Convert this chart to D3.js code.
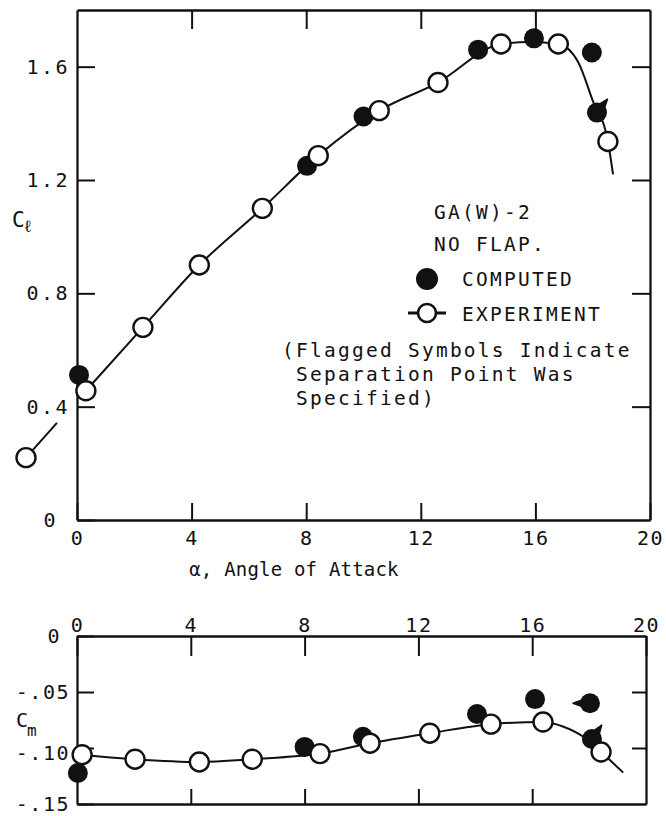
<!DOCTYPE html>
<html>
<head>
<meta charset="utf-8">
<script src="https://cdn.jsdelivr.net/npm/d3@7"></script>
<style>
  body { margin: 0; background: #fff; }
  svg text { font-family: "DejaVu Sans Mono", monospace; fill: #111; }
</style>
</head>
<body>
<script>
// ---------- data ----------
const alphaTicks = [0, 4, 8, 12, 16, 20];
const alphaTickLabels = ["0", "4", "8", "12", "16", "20"];
const clTicks = [0, 0.4, 0.8, 1.2, 1.6];
const clTickLabels = ["0", "0.4", "0.8", "1.2", "1.6"];
const cmTicks = [-0.15, -0.10, -0.05, 0];
const cmTickLabels = ["-.15", "-.10", "-.05", "0"];

// Lift coefficient, experiment
const expAlphaCl = [-1.78, 0.31, 2.3, 4.27, 6.47, 8.42, 10.55, 12.6, 14.8, 16.8, 18.53];
const expCl      = [0.22, 0.456, 0.68, 0.90, 1.10, 1.286, 1.445, 1.544, 1.68, 1.68, 1.336];
// Lift coefficient, computed (flag angle in degrees where separation point was specified)
const compAlphaCl = [0.07, 8.03, 10.0, 14.0, 15.95, 17.97, 18.15];
const compCl      = [0.512, 1.25, 1.424, 1.66, 1.70, 1.65, 1.438];
const compClFlag  = [null, null, null, null, null, null, -52];
// Faired experiment curve for lift
const clFairAlpha = [0.31, 2.3, 4.27, 6.47, 8.42, 10.55, 12.6, 14.8, 15.8, 16.8, 17.5, 18.0, 18.53, 18.71];
const clFair      = [0.456, 0.68, 0.90, 1.10, 1.286, 1.445, 1.544, 1.68, 1.687, 1.68, 1.615, 1.48, 1.336, 1.22];
const clLowAlpha  = [-1.78, -0.70];
const clLow       = [0.22, 0.343];

// Pitching moment, experiment
const expAlphaCm = [0.18, 2.04, 4.3, 6.16, 8.54, 10.3, 12.4, 14.55, 16.38, 18.42];
const expCm      = [-0.106, -0.110, -0.1125, -0.110, -0.105, -0.0957, -0.0868, -0.0787, -0.0768, -0.1036];
// Pitching moment, computed
const compAlphaCm = [0.03, 8.0, 10.05, 14.06, 16.1, 18.03, 18.1];
const compCm      = [-0.1223, -0.099, -0.090, -0.0696, -0.0563, -0.060, -0.092];
const compCmFlag  = [null, null, null, null, null, 180, -55];
// Faired experiment curve for moment
const cmFairAlpha = [0, 0.18, 2.04, 4.3, 6.16, 8.54, 10.3, 12.4, 14.55, 16.38, 17.1, 17.8, 18.42, 19.2];
const cmFair      = [-0.1055, -0.106, -0.110, -0.1125, -0.110, -0.105, -0.0957, -0.0868, -0.0787, -0.0768, -0.081, -0.090, -0.1036, -0.122];

// ---------- layout ----------
const W = 666, H = 816;
const ink = "#111";
const svg = d3.select("body").append("svg").attr("width", W).attr("height", H);

const xCl = d3.scaleLinear().domain([0, 20]).range([77, 650]);
const yCl = d3.scaleLinear().domain([0, 1.8]).range([520, 10]);
const xCm = d3.scaleLinear().domain([0, 20]).range([77, 646]);
const yCm = d3.scaleLinear().domain([-0.15, 0]).range([804, 636]);

const zip = (a, b) => a.map((v, i) => [v, b[i]]);

function styleAxis(g, fs, ls) {
  g.select(".domain").attr("stroke", ink).attr("stroke-width", 2.3);
  g.selectAll(".tick line").attr("stroke", ink).attr("stroke-width", 2);
  g.selectAll(".tick text")
    .attr("font-family", "DejaVu Sans Mono, monospace")
    .attr("font-size", fs).attr("letter-spacing", ls).attr("fill", ink);
  g.attr("font-family", null).attr("font-size", null);
}

// ---------- lift plot frame ----------
const liftG = svg.append("g");
liftG.append("g").attr("transform", `translate(0,${yCl(0)})`)
  .call(d3.axisBottom(xCl).tickValues(alphaTicks).tickSizeInner(-17).tickSizeOuter(0)
    .tickPadding(11).tickFormat((d, i) => alphaTickLabels[i]))
  .call(g => styleAxis(g, 20, 1.5));
liftG.append("g").attr("transform", `translate(0,${yCl(1.8)})`)
  .call(d3.axisTop(xCl).tickValues(alphaTicks.slice(1, -1)).tickSizeInner(-19).tickSizeOuter(0).tickFormat(""))
  .call(g => styleAxis(g, 20, 0));
liftG.append("g").attr("transform", `translate(${xCl(0)},0)`)
  .call(d3.axisLeft(yCl).tickValues(clTicks).tickSizeInner(-18).tickSizeOuter(0)
    .tickPadding(7).tickFormat((d, i) => clTickLabels[i]))
  .call(g => styleAxis(g, 20, 2.5))
  .call(g => g.selectAll(".tick text").filter(d => d === 0).attr("x", -19));
liftG.append("g").attr("transform", `translate(${xCl(20)},0)`)
  .call(d3.axisRight(yCl).tickValues(clTicks.slice(1)).tickSizeInner(-18).tickSizeOuter(0).tickFormat(""))
  .call(g => styleAxis(g, 20, 0));

// ---------- moment plot frame ----------
const momentG = svg.append("g");
momentG.append("g").attr("transform", `translate(0,${yCm(0)})`)
  .call(d3.axisTop(xCm).tickValues(alphaTicks).tickSizeInner(-20).tickSizeOuter(0)
    .tickPadding(4).tickFormat((d, i) => alphaTickLabels[i]))
  .call(g => styleAxis(g, 20, 1.5))
  .call(g => g.selectAll(".tick text").attr("dy", "0em"));
momentG.append("g").attr("transform", `translate(0,${yCm(-0.15)})`)
  .call(d3.axisBottom(xCm).tickValues(alphaTicks.slice(1, -1)).tickSizeInner(-15).tickSizeOuter(0).tickFormat(""))
  .call(g => styleAxis(g, 20, 0));
momentG.append("g").attr("transform", `translate(${xCm(0)},0)`)
  .call(d3.axisLeft(yCm).tickValues(cmTicks).tickSizeInner(-17).tickSizeOuter(0)
    .tickPadding(7).tickFormat((d, i) => cmTickLabels[i]))
  .call(g => styleAxis(g, 20, 1.5))
  .call(g => g.selectAll(".tick text")
    .attr("dy", d => (d < -0.075 && d > -0.125) ? "0.55em" : "0.32em")
    .filter(d => d === 0).attr("x", -16));
momentG.append("g").attr("transform", `translate(${xCm(20)},0)`)
  .call(d3.axisRight(yCm).tickValues(cmTicks.slice(1, -1)).tickSizeInner(-14).tickSizeOuter(0).tickFormat(""))
  .call(g => styleAxis(g, 20, 0));

// ---------- axis titles ----------
const clLabel = svg.append("text").attr("x", 12).attr("y", 227).attr("font-size", 21);
clLabel.append("tspan").text("C");
clLabel.append("tspan").attr("dy", 5).attr("dx", -1).attr("font-size", 17).text("ℓ");

const cmLabel = svg.append("text").attr("x", 16).attr("y", 727).attr("font-size", 20);
cmLabel.append("tspan").text("C");
cmLabel.append("tspan").attr("dy", 9).attr("font-size", 16).attr("dx", -1).text("m");

svg.append("text").attr("x", 294).attr("y", 576).attr("text-anchor", "middle")
  .attr("font-size", 19).attr("letter-spacing", 0.2).text("α, Angle of Attack");

// ---------- marks ----------
function drawSeries(g, x, y, fair, low, comp, flags, exp) {
  const line = d3.line().x(d => x(d[0])).y(d => y(d[1])).curve(d3.curveMonotoneX);
  g.append("path").datum(fair).attr("d", line)
    .attr("fill", "none").attr("stroke", ink).attr("stroke-width", 2);
  if (low) g.append("path").datum(low).attr("d", d3.line().x(d => x(d[0])).y(d => y(d[1])))
    .attr("fill", "none").attr("stroke", ink).attr("stroke-width", 2);

  const r = 10;
  // separation flags: a tapered wedge sticking out of the computed symbol
  const flagged = comp.map((d, i) => ({ p: d, a: flags[i] })).filter(d => d.a !== null);
  g.selectAll(null).data(flagged).join("path")
    .attr("d", d => {
      const cx = x(d.p[0]), cy = y(d.p[1]), a = d.a * Math.PI / 180, h = 20 * Math.PI / 180;
      const tip = [cx + Math.cos(a) * (r + 7), cy + Math.sin(a) * (r + 7)];
      const b1 = [cx + Math.cos(a - h) * (r - 1), cy + Math.sin(a - h) * (r - 1)];
      const b2 = [cx + Math.cos(a + h) * (r - 1), cy + Math.sin(a + h) * (r - 1)];
      return `M${b1}L${tip}L${b2}Z`;
    })
    .attr("fill", ink).attr("stroke", ink).attr("stroke-width", 1.5).attr("stroke-linejoin", "round");
  g.selectAll(null).data(comp).join("circle")
    .attr("cx", d => x(d[0])).attr("cy", d => y(d[1])).attr("r", r)
    .attr("fill", ink);
  g.selectAll(null).data(exp).join("circle")
    .attr("cx", d => x(d[0])).attr("cy", d => y(d[1])).attr("r", 9.5)
    .attr("fill", "#fff").attr("stroke", ink).attr("stroke-width", 2.4);
}

drawSeries(svg.append("g"), xCl, yCl,
  zip(clFairAlpha, clFair), zip(clLowAlpha, clLow),
  zip(compAlphaCl, compCl), compClFlag, zip(expAlphaCl, expCl));
drawSeries(svg.append("g"), xCm, yCm,
  zip(cmFairAlpha, cmFair), null,
  zip(compAlphaCm, compCm), compCmFlag, zip(expAlphaCm, expCm));

// ---------- legend ----------
const leg = svg.append("g").attr("font-size", 19.5).attr("letter-spacing", 2.25);
leg.append("text").attr("x", 434).attr("y", 219).text("GA(W)-2");
leg.append("text").attr("x", 434).attr("y", 251).text("NO FLAP.");
leg.append("circle").attr("cx", 427).attr("cy", 279).attr("r", 11).attr("fill", ink);
leg.append("text").attr("x", 462).attr("y", 286).text("COMPUTED");
leg.append("line").attr("x1", 408).attr("x2", 446).attr("y1", 313).attr("y2", 313)
  .attr("stroke", ink).attr("stroke-width", 3);
leg.append("circle").attr("cx", 427).attr("cy", 313).attr("r", 9).attr("fill", "#fff")
  .attr("stroke", ink).attr("stroke-width", 2.6);
leg.append("text").attr("x", 462).attr("y", 321).text("EXPERIMENT");
const note = ["(Flagged Symbols Indicate", " Separation Point Was", " Specified)"];
leg.selectAll(null).data(note).join("text")
  .attr("x", 282).attr("y", (d, i) => 357 + i * 24)
  .style("white-space", "pre").text(d => d);
</script>
</body>
</html>
